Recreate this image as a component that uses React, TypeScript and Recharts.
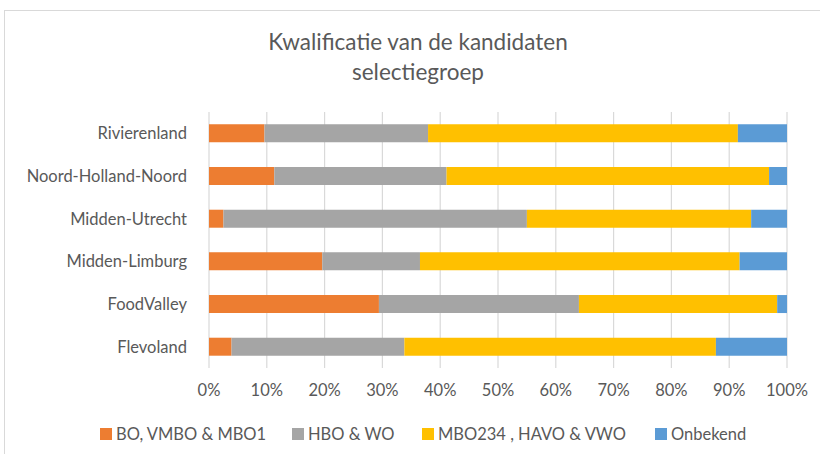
import React from "react";
import { BarChart, Bar, XAxis, YAxis, CartesianGrid } from "recharts";

const regions = ["Rivierenland", "Noord-Holland-Noord", "Midden-Utrecht", "Midden-Limburg", "FoodValley", "Flevoland"];
const boVmboMbo1 = [9.6, 11.3, 2.5, 19.6, 29.4, 3.9];
const hboWo = [28.3, 29.8, 52.5, 16.9, 34.6, 29.9];
const mbo234HavoVwo = [53.6, 55.8, 38.8, 55.3, 34.3, 53.9];
const onbekend = [8.5, 3.1, 6.2, 8.2, 1.7, 12.3];
const xTicks = [0, 10, 20, 30, 40, 50, 60, 70, 80, 90, 100];

const seriesNames = ["BO, VMBO & MBO1", "HBO & WO", "MBO234 , HAVO & VWO", "Onbekend"];
const seriesColors = ["#ED7D31", "#A5A5A5", "#FFC000", "#5B9BD5"];
const seriesKeys = ["s0", "s1", "s2", "s3"];
const legendX = [100, 292, 422, 655];

const data = regions.map((name, i) => ({
  name,
  s0: boVmboMbo1[i],
  s1: hboWo[i],
  s2: mbo234HavoVwo[i],
  s3: onbekend[i],
}));

const FONT = "Lato, 'Open Sans', sans-serif";
const TEXT = "#595959";

export default function App() {
  return (
    <div style={{ position: "absolute", left: 0, top: 0, width: 820, height: 454, background: "#fff", overflow: "hidden" }}>
      <div style={{ position: "absolute", left: 4, top: 10, width: 830, height: 460, borderTop: "1px solid #d9d9d9", borderLeft: "1px solid #d9d9d9" }} />
      <div style={{ position: "absolute", left: 0, top: 27, width: 836, textAlign: "center", fontFamily: FONT, fontSize: 22.5, color: TEXT, lineHeight: "30px" }}>
        <div>Kwalificatie van de kandidaten</div>
        <div>selectiegroep</div>
      </div>
      <div style={{ position: "absolute", left: 0, top: 0 }}>
        <BarChart
          width={820}
          height={454}
          data={data}
          layout="vertical"
          margin={{ top: 112, right: 33, bottom: 46, left: 0 }}
          barCategoryGap="29%"
        >
          <CartesianGrid horizontal={false} stroke="#d9d9d9" strokeWidth={1.2} />
          <XAxis
            type="number"
            domain={[0, 100]}
            ticks={xTicks}
            tickFormatter={(v) => `${v}%`}
            axisLine={false}
            tickLine={false}
            tickMargin={10}
            interval={0}
            height={40}
            tick={{ fill: TEXT, fontSize: 16.5, fontFamily: FONT }}
          />
          <YAxis
            type="category"
            dataKey="name"
            width={209}
            axisLine={false}
            tickLine={false}
            tickSize={0}
            tickMargin={22}
            interval={0}
            tick={{ fill: TEXT, fontSize: 16.5, fontFamily: FONT }}
          />
          {seriesKeys.map((k, i) => (
            <Bar key={k} dataKey={k} name={seriesNames[i]} stackId="a" fill={seriesColors[i]} isAnimationActive={false} />
          ))}
        </BarChart>
      </div>
      {seriesNames.map((n, i) => (
        <div
          key={n}
          style={{ position: "absolute", left: legendX[i], top: 424, height: 20, display: "flex", alignItems: "center", fontFamily: FONT, fontSize: 16.5, color: TEXT, whiteSpace: "nowrap" }}
        >
          <span style={{ display: "inline-block", width: 12, height: 12, background: seriesColors[i], marginRight: 4 }} />
          <span>{n}</span>
        </div>
      ))}
    </div>
  );
}
